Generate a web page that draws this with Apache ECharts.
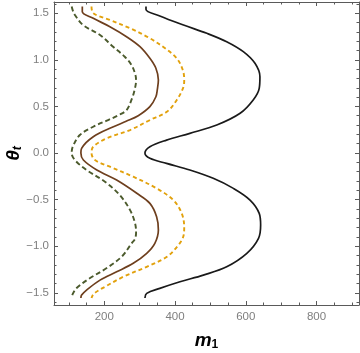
<!DOCTYPE html>
<html><head><meta charset="utf-8">
<script src="https://cdn.jsdelivr.net/npm/echarts@6/dist/echarts.min.js"></script>
<style>html,body{margin:0;padding:0;background:#fff}#c{width:360px;height:353px}</style>
</head><body><div id="c"></div>
<script>
// Curves: [m1, theta_t] pairs
const greenCurve = [[108,1.571],[111,1.53],[117,1.481],[140,1.373],[188,1.266],[225,1.14],[258,1.033],[277,0.944],[288,0.84],[290,0.78],[286,0.68],[278,0.58],[263,0.461],[240,0.405],[211,0.354],[169,0.282],[131,0.193],[111,0.068],[108,0],[117,-0.075],[150,-0.182],[202,-0.308],[244,-0.451],[273,-0.612],[287,-0.751],[290,-0.85],[287,-0.92],[278,-0.966],[249,-1.113],[207,-1.234],[160,-1.341],[122,-1.448],[110,-1.52],[108,-1.555]];
const brownCurve = [[138,1.571],[138,1.516],[169,1.445],[216,1.355],[263,1.248],[301,1.141],[329,1.016],[346,0.909],[353,0.783],[350,0.68],[346,0.604],[329,0.497],[296,0.40],[262,0.34],[226,0.282],[169,0.175],[136,0.05],[134,0],[141,-0.075],[179,-0.182],[235,-0.29],[292,-0.432],[329,-0.54],[348,-0.683],[353,-0.826],[343,-0.969],[320,-1.076],[282,-1.183],[235,-1.274],[188,-1.363],[150,-1.47],[136,-1.524],[134,-1.555]];
const orangeCurve = [[164,1.571],[169,1.499],[216,1.427],[273,1.338],[329,1.231],[372,1.123],[405,1.016],[422,0.891],[426,0.783],[424,0.711],[405,0.569],[377,0.443],[329,0.354],[273,0.247],[207,0.158],[169,0.068],[164,0],[174,-0.075],[216,-0.147],[282,-0.254],[348,-0.379],[395,-0.504],[419,-0.647],[426,-0.8],[423,-0.9],[409,-0.99],[377,-1.113],[320,-1.22],[254,-1.327],[202,-1.435],[170,-1.51],[164,-1.555]];
const blackCurve = [[318,1.571],[318,1.54],[357,1.47],[424,1.373],[490,1.284],[546,1.194],[593,1.087],[626,0.962],[640,0.819],[638,0.694],[621,0.569],[584,0.426],[518,0.3],[442,0.211],[376,0.139],[329,0.068],[315,0],[329,-0.057],[376,-0.111],[442,-0.182],[508,-0.271],[565,-0.379],[612,-0.504],[638,-0.647],[642,-0.773],[636,-0.915],[603,-1.076],[546,-1.22],[480,-1.309],[414,-1.381],[357,-1.452],[320,-1.505],[315,-1.555]];

const xMajorTicks = [200,400,600,800];
const xMinorTicks = [100,150,250,300,350,450,500,550,650,700,750,850,900];
const yMajorTicks = [-1.5,-1.0,-0.5,0.0,0.5,1.0,1.5];
const yMinorTicks = [-1.6,-1.4,-1.3,-1.2,-1.1,-0.9,-0.8,-0.7,-0.6,-0.4,-0.3,-0.2,-0.1,0.1,0.2,0.3,0.4,0.6,0.7,0.8,0.9,1.1,1.2,1.3,1.4,1.6];

const X_MIN = 58, X_MAX = 920, Y_MIN = -1.63, Y_MAX = 1.62;
const frameColor = '#5a5a5a';
const labelColor = '#7f7f7f';

function xAx(pos, ticks, len, line, labels) {
  return {
    type:'value', position:pos, min:X_MIN, max:X_MAX,
    axisLine:{show:line, onZero:false, lineStyle:{color:frameColor, width:1}},
    axisTick:{show:true, inside:true, length:len, customValues:ticks, lineStyle:{color:frameColor, width:1}},
    axisLabel:{show:labels, customValues:ticks, color:labelColor, fontSize:11.5, fontFamily:'Liberation Sans', margin:6},
    splitLine:{show:false}
  };
}
function yAx(pos, ticks, len, line, labels) {
  return {
    type:'value', position:pos, min:Y_MIN, max:Y_MAX,
    axisLine:{show:line, onZero:false, lineStyle:{color:frameColor, width:1}},
    axisTick:{show:true, inside:true, length:len, customValues:ticks, lineStyle:{color:frameColor, width:1}},
    axisLabel:{show:labels, customValues:ticks, color:labelColor, fontSize:11.5, fontFamily:'Liberation Sans', margin:5,
      formatter: v => (v < -1e-9 ? '\u2212' : '') + Math.abs(v).toFixed(1)},
    splitLine:{show:false}
  };
}

const xAxes = [xAx('bottom', xMajorTicks, 4, true, true), xAx('bottom', xMinorTicks, 2.5, false, false),
               xAx('top', xMajorTicks, 4, true, false), xAx('top', xMinorTicks, 2.5, false, false)];
Object.assign(xAxes[0], {
  name:'{m|m}{s|1}', nameLocation:'middle', nameGap:25, nameMoveOverlap:false,
  nameTextStyle:{rich:{
    m:{fontFamily:'Liberation Sans', fontWeight:'bold', fontStyle:'italic', fontSize:19, color:'#000'},
    s:{fontFamily:'Liberation Sans', fontWeight:'bold', fontSize:12, color:'#000', padding:[9,0,0,0]}
  }}
});
const yAxes = [yAx('left', yMajorTicks, 4, true, true), yAx('left', yMinorTicks, 2.5, false, false),
               yAx('right', yMajorTicks, 4, true, false), yAx('right', yMinorTicks, 2.5, false, false)];
Object.assign(yAxes[0], {
  name:'{m|\u03b8}{s|t}', nameLocation:'middle', nameRotate:90, nameGap:30, nameMoveOverlap:false,
  nameTextStyle:{rich:{
    m:{fontFamily:'Liberation Sans', fontWeight:'bold', fontStyle:'italic', fontSize:19, color:'#000'},
    s:{fontFamily:'Liberation Sans', fontWeight:'bold', fontStyle:'italic', fontSize:12, color:'#000', padding:[9,0,0,0]}
  }}
});

function curve(data, color, type, width) {
  return { type:'line', data:data, xAxisIndex:0, yAxisIndex:0, showSymbol:false, symbol:'none', smooth:0.35,
    lineStyle:{color:color, width:width, type:type}, animation:false, z:3 };
}

const chart = echarts.init(document.getElementById('c'), null, {renderer:'canvas'});
chart.setOption({
  animation:false,
  backgroundColor:'#fff',
  grid:{left:54, right:1, top:2, bottom:48, containLabel:false, outerBoundsMode:'none'},
  xAxis:xAxes, yAxis:yAxes,
  series:[
    curve(greenCurve, '#4b5a2c', [5,3], 1.9),
    curve(brownCurve, '#6e3f1e', 'solid', 1.7),
    curve(orangeCurve, '#e2a10c', [4,3], 1.9),
    curve(blackCurve, '#1a1a1a', 'solid', 1.7)
  ]
});
</script></body></html>
